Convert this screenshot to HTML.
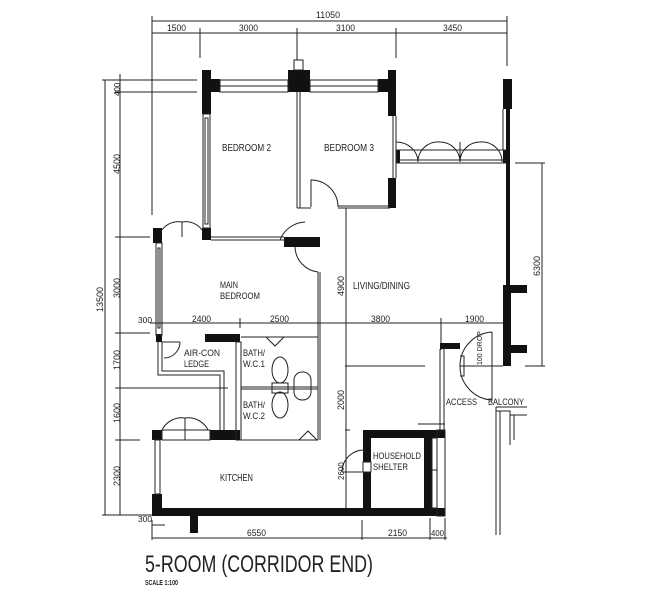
<!DOCTYPE html>
<html><head><meta charset="utf-8"><style>
html,body{margin:0;padding:0;background:#fff}
svg{display:block}
text{font-family:"Liberation Sans Narrow","Liberation Sans",sans-serif;fill:#222}
</style></head><body>
<svg width="671" height="600" viewBox="0 0 671 600" xmlns="http://www.w3.org/2000/svg">
<g stroke="#222" stroke-width="1" fill="none">
<line x1="152" y1="21" x2="507" y2="21"/>
<line x1="152" y1="33" x2="507" y2="33"/>
<line x1="152" y1="16" x2="152" y2="215"/>
<line x1="200" y1="28" x2="200" y2="58"/>
<line x1="297" y1="28" x2="297" y2="60"/>
<line x1="396" y1="28" x2="396" y2="58"/>
<line x1="507" y1="16" x2="507" y2="66"/>
<line x1="105" y1="80" x2="105" y2="515"/>
<line x1="120" y1="74" x2="120" y2="515"/>
<line x1="102" y1="80" x2="197" y2="80"/>
<line x1="115" y1="92" x2="197" y2="92"/>
<line x1="115" y1="237" x2="150" y2="237"/>
<line x1="115" y1="333" x2="150" y2="333"/>
<line x1="115" y1="388" x2="228" y2="388"/>
<line x1="115" y1="440" x2="140" y2="440"/>
<line x1="102" y1="515" x2="155" y2="515"/>
<line x1="515" y1="163" x2="545" y2="163"/>
<line x1="542" y1="163" x2="542" y2="366"/>
<line x1="525" y1="366" x2="545" y2="366"/>
<line x1="150" y1="323" x2="503" y2="323"/>
<line x1="240" y1="318" x2="240" y2="328"/>
<line x1="318" y1="318" x2="318" y2="328"/>
<line x1="441" y1="318" x2="441" y2="350"/>
<line x1="346" y1="208" x2="346" y2="510"/>
<line x1="345" y1="366" x2="425" y2="366"/>
<line x1="345" y1="430" x2="350" y2="430"/>
<line x1="152" y1="538" x2="447" y2="538"/>
<line x1="152" y1="520" x2="152" y2="540"/>
<line x1="362" y1="520" x2="362" y2="540"/>
<line x1="430" y1="518" x2="430" y2="540"/>
<line x1="445" y1="518" x2="445" y2="540"/>
<line x1="152" y1="525" x2="165" y2="525"/>
</g>
<g fill="#111">
<rect x="202" y="70" width="9" height="44"/>
<rect x="210" y="79" width="10" height="13"/>
<rect x="288" y="70" width="22" height="22"/>
<rect x="388" y="70" width="8" height="46"/>
<rect x="378" y="79" width="12" height="13"/>
<rect x="388" y="178" width="8" height="30"/>
<rect x="503" y="79" width="9" height="30"/>
<rect x="506" y="108" width="4" height="258"/>
<rect x="503" y="285" width="8" height="81"/>
<rect x="510" y="285" width="17" height="8"/>
<rect x="510" y="345" width="17" height="8"/>
<rect x="396" y="150" width="4" height="13"/>
<rect x="503" y="150" width="4" height="13"/>
<rect x="153" y="228" width="9" height="15"/>
<rect x="202" y="228" width="9" height="12"/>
<rect x="284" y="237" width="36" height="10"/>
<rect x="156" y="334" width="6" height="8"/>
<rect x="205" y="334" width="35" height="8"/>
<rect x="152" y="430" width="10" height="10"/>
<rect x="210" y="430" width="30" height="10"/>
<rect x="152" y="494" width="10" height="16"/>
<rect x="152" y="508" width="293" height="8"/>
<rect x="190" y="515" width="8" height="18"/>
<rect x="363" y="430" width="82" height="8"/>
<rect x="363" y="430" width="8" height="32"/>
<rect x="363" y="472" width="8" height="44"/>
<rect x="424" y="430" width="8" height="86"/>
<rect x="440" y="343" width="20" height="6"/>
</g>
<g stroke="#222" stroke-width="1" fill="none">
<rect x="220" y="80" width="68" height="12"/>
<line x1="220" y1="86" x2="288" y2="86"/>
<rect x="310" y="80" width="68" height="12"/>
<line x1="310" y1="86" x2="378" y2="86"/>
<rect x="294" y="60" width="9" height="10"/>
<rect x="203" y="114" width="7" height="114"/>
<rect x="205" y="118" width="3" height="106"/>
<line x1="297" y1="92" x2="297" y2="208"/>
<line x1="300" y1="92" x2="300" y2="208"/>
<line x1="297" y1="208" x2="311" y2="208"/>
<line x1="338" y1="206" x2="390" y2="206"/>
<line x1="338" y1="208" x2="390" y2="208"/>
<line x1="393" y1="116" x2="393" y2="178"/>
<line x1="396" y1="116" x2="396" y2="178"/>
<path d="M311 207 V180 A27 27 0 0 1 338 207"/>
<line x1="396" y1="160" x2="507" y2="160"/>
<line x1="396" y1="163" x2="507" y2="163"/>
<line x1="396" y1="150" x2="507" y2="150"/>
<path d="M396 142 A22 20 0 0 1 418 162 M418 162 A20 20 0 0 1 440 142 M440 142 A20 20 0 0 1 460 162 M460 162 A20 20 0 0 1 480 142 M480 142 A20 20 0 0 1 502 162"/>
<line x1="460" y1="142" x2="460" y2="162"/>
<line x1="503" y1="109" x2="503" y2="150"/>
<line x1="211" y1="237" x2="284" y2="237"/>
<line x1="211" y1="240" x2="284" y2="240"/>
<rect x="156" y="243" width="6" height="92"/>
<rect x="158" y="248" width="2" height="80"/>
<path d="M162 230 A20 20 0 0 1 182 222 M182 222 A20 20 0 0 1 202 230"/>
<line x1="182" y1="222" x2="182" y2="237"/>
<path d="M280 240 A28 28 0 0 1 305 222"/>
<path d="M295 247 A26 26 0 0 0 318 272"/>
<line x1="318" y1="272" x2="318" y2="440"/>
<line x1="320" y1="272" x2="320" y2="440"/>
<path d="M158 342 V375 H220 V430"/>
<path d="M162 342 V371 H224 V430"/>
<path d="M164 358 A16 16 0 0 0 180 342"/>
<line x1="162" y1="342" x2="180" y2="342"/>
<rect x="236" y="342" width="5" height="98"/>
<line x1="241" y1="337" x2="318" y2="337"/>
<line x1="241" y1="387" x2="318" y2="387"/>
<line x1="241" y1="389" x2="318" y2="389"/>
<line x1="241" y1="440" x2="318" y2="440"/>
<path d="M266 337 l9 9 l9 -9"/>
<path d="M299 440 l9 -9 l9 9"/>
<ellipse cx="280" cy="370" rx="8" ry="13"/>
<ellipse cx="280" cy="405" rx="8" ry="13"/>
<rect x="272" y="383" width="16" height="10"/>
<rect x="294" y="372" width="17" height="28" rx="8"/>
<rect x="155" y="440" width="5" height="54"/>
<rect x="162" y="430" width="48" height="10"/>
<path d="M162 430 A22 22 0 0 1 185 418 M185 418 A22 22 0 0 1 208 430"/>
<line x1="185" y1="418" x2="185" y2="440"/>
<path d="M342 472 A22 22 0 0 1 364 450"/>
<line x1="342" y1="472" x2="364" y2="472"/>
<rect x="363" y="462" width="8" height="10"/>
<rect x="432" y="438" width="5" height="70"/>
<rect x="437" y="430" width="8" height="86"/>
<line x1="432" y1="470" x2="437" y2="470"/>
<line x1="418" y1="424" x2="445" y2="424"/>
<line x1="440" y1="349" x2="440" y2="430"/>
<line x1="444" y1="349" x2="444" y2="430"/>
<line x1="460" y1="366" x2="503" y2="366"/>
<path d="M492 332 A34 34 0 0 0 460 366 A34 34 0 0 0 492 400 V332"/>
<path d="M460 356 h4 v20 h-4"/>
<path d="M496 407 H527 M496 411 H510 V445 M500 411 V535 M496 407 V535 M510 415 H527 M514 415 V440"/>
</g>
<g font-size="9">
<text x="316" y="18" textLength="24" lengthAdjust="spacingAndGlyphs">11050</text>
<text x="167" y="31" textLength="19" lengthAdjust="spacingAndGlyphs">1500</text>
<text x="239" y="31" textLength="19" lengthAdjust="spacingAndGlyphs">3000</text>
<text x="336" y="31" textLength="19" lengthAdjust="spacingAndGlyphs">3100</text>
<text x="443" y="31" textLength="19" lengthAdjust="spacingAndGlyphs">3450</text>
<text x="222" y="151" font-size="10" textLength="49" lengthAdjust="spacingAndGlyphs">BEDROOM  2</text>
<text x="324" y="151" font-size="10" textLength="50" lengthAdjust="spacingAndGlyphs">BEDROOM  3</text>
<text x="220" y="288" font-size="9.5" textLength="18" lengthAdjust="spacingAndGlyphs">MAIN</text>
<text x="220" y="299" font-size="9.5" textLength="40" lengthAdjust="spacingAndGlyphs">BEDROOM</text>
<text x="353" y="289" font-size="10" textLength="57" lengthAdjust="spacingAndGlyphs">LIVING/DINING</text>
<text x="138" y="323" font-size="8.5" textLength="14" lengthAdjust="spacingAndGlyphs">300</text>
<text x="192" y="322" textLength="19" lengthAdjust="spacingAndGlyphs">2400</text>
<text x="270" y="322" textLength="19" lengthAdjust="spacingAndGlyphs">2500</text>
<text x="371" y="322" textLength="19" lengthAdjust="spacingAndGlyphs">3800</text>
<text x="465" y="322" textLength="19" lengthAdjust="spacingAndGlyphs">1900</text>
<text x="184" y="356" font-size="9.5" textLength="36" lengthAdjust="spacingAndGlyphs">AIR-CON</text>
<text x="184" y="367" font-size="9.5" textLength="25" lengthAdjust="spacingAndGlyphs">LEDGE</text>
<text x="243" y="356" font-size="9" textLength="22" lengthAdjust="spacingAndGlyphs">BATH/</text>
<text x="243" y="367" font-size="9" textLength="22" lengthAdjust="spacingAndGlyphs">W.C.1</text>
<text x="243" y="408" font-size="9" textLength="22" lengthAdjust="spacingAndGlyphs">BATH/</text>
<text x="243" y="419" font-size="9" textLength="22" lengthAdjust="spacingAndGlyphs">W.C.2</text>
<text x="220" y="481" font-size="10" textLength="33" lengthAdjust="spacingAndGlyphs">KITCHEN</text>
<text x="373" y="459" font-size="9.5" textLength="48" lengthAdjust="spacingAndGlyphs">HOUSEHOLD</text>
<text x="373" y="470" font-size="9.5" textLength="35" lengthAdjust="spacingAndGlyphs">SHELTER</text>
<text x="446" y="405" font-size="9.5" textLength="31" lengthAdjust="spacingAndGlyphs">ACCESS</text>
<text x="488" y="405" font-size="9.5" textLength="36" lengthAdjust="spacingAndGlyphs">BALCONY</text>
<text x="138" y="522" font-size="8.5" textLength="14" lengthAdjust="spacingAndGlyphs">300</text>
<text x="247" y="536" textLength="19" lengthAdjust="spacingAndGlyphs">6550</text>
<text x="388" y="536" textLength="19" lengthAdjust="spacingAndGlyphs">2150</text>
<text x="431" y="536" font-size="8" textLength="13" lengthAdjust="spacingAndGlyphs">400</text>
<text x="145" y="572" font-size="24" textLength="228" lengthAdjust="spacingAndGlyphs" fill="#333">5-ROOM (CORRIDOR END)</text>
<text x="145" y="585" font-size="7" font-weight="bold" textLength="33" lengthAdjust="spacingAndGlyphs">SCALE   1:100</text>
</g>
<g font-size="9">
<text transform="translate(103,312) rotate(-90)">13500</text>
<text transform="translate(120,96) rotate(-90)" font-size="8">400</text>
<text transform="translate(120,174) rotate(-90)">4500</text>
<text transform="translate(120,298) rotate(-90)">3000</text>
<text transform="translate(120,370) rotate(-90)">1700</text>
<text transform="translate(120,423) rotate(-90)">1600</text>
<text transform="translate(120,486) rotate(-90)">2300</text>
<text transform="translate(344,296) rotate(-90)">4900</text>
<text transform="translate(344,410) rotate(-90)">2000</text>
<text transform="translate(344,480) rotate(-90)" font-size="8">2600</text>
<text transform="translate(540,276) rotate(-90)">6300</text>
<text transform="translate(482,365) rotate(-90)" font-size="7">100 DROP</text>
</g>
</svg>
</body></html>
